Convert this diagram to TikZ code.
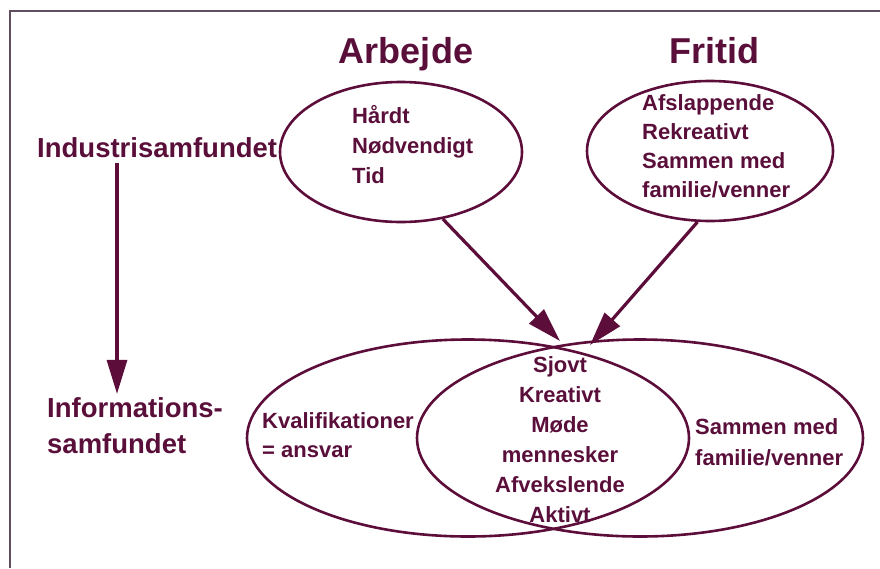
\documentclass[tikz,border=0pt]{standalone}
\usepackage{fontspec}
\setmainfont{Liberation Sans}
\usetikzlibrary{arrows.meta,shapes.geometric,calc}
\definecolor{inkdraw}{HTML}{5C0D3A}
\definecolor{inktext}{HTML}{5A0F3A}
\definecolor{framedraw}{HTML}{5E4E60}

\begin{document}
\begin{tikzpicture}[
    x=1pt, y=-1pt,
    font=\bfseries,
    >={Triangle[length=34pt, width=20pt]},
    title/.style={text=inktext, inner sep=0pt, anchor=base,
                  font=\bfseries\fontsize{36}{40}\selectfont},
    era/.style={text=inktext, inner sep=0pt, anchor=base west,
                font=\bfseries\fontsize{27.5}{32}\selectfont},
    item/.style={text=inktext, inner sep=0pt, anchor=base west,
                 font=\bfseries\fontsize{22}{26}\selectfont},
    oval/.style={ellipse, draw=inkdraw, line width=2.6pt, inner sep=0pt},
    flow/.style={->, draw=inkdraw, line width=3.2pt},
]
\useasboundingbox (0,0) rectangle (880,568);
\draw[framedraw, line width=2.2pt] (10,568) -- (10,11) -- (880,11);

% ---------------- Top: work and leisure ----------------
\node[title] (arbtitle) at (406,63) {Arbejde};
\node[title] (frititle) at (714,63) {Fritid};

\node[oval, minimum width=242pt, minimum height=140pt] (arb) at (401,152) {};
\node[oval, minimum width=246pt, minimum height=140pt] (fri) at (710,151) {};

\foreach \t [count=\i from 0] in {Hårdt, Nødvendigt, Tid}
  \node[item] (arb-\i) at (352,123+30*\i) {\t};
\foreach \t [count=\i from 0] in {Afslappende, Rekreativt, Sammen med, familie/venner}
  \node[item] (fri-\i) at (642,110+29*\i) {\t};

% ---------------- Left: the two societies ----------------
\node[era] (indus) at (37,157) {Industrisamfundet};
\foreach \t [count=\i from 0] in {Informations-, samfundet}
  \node[era] (info-\i) at (47,417+36*\i) {\t};

\coordinate (axis) at (117,0);
\draw[flow, shorten <=6pt, shorten >=3pt] (axis |- indus.south) -- (axis |- info-0.north);

% ---------------- Bottom: overlapping ovals ----------------
\node[oval, minimum width=442pt, minimum height=197pt] (nyarb) at (468,438) {};
\node[oval, minimum width=446pt, minimum height=197pt] (nyfri) at (640,438) {};

\foreach \t [count=\i from 0] in {Kvalifikationer, = ansvar}
  \node[item] (kval-\i) at (262,428+29*\i) {\t};
\foreach \t [count=\i from 0] in {Sjovt, Kreativt, Møde, mennesker, Afvekslende, Aktivt}
  \node[item, anchor=base] (mix-\i) at (560,372+30*\i) {\t};
\foreach \t [count=\i from 0] in {Sammen med, familie/venner}
  \node[item] (fam-\i) at (695,434+31*\i) {\t};

\coordinate (meetL) at (560,341);
\coordinate (meetR) at (590,345);
\draw[flow] (arb.-58) -- (meetL);
\draw[flow] (fri.-100) -- (meetR);

\end{tikzpicture}
\end{document}
